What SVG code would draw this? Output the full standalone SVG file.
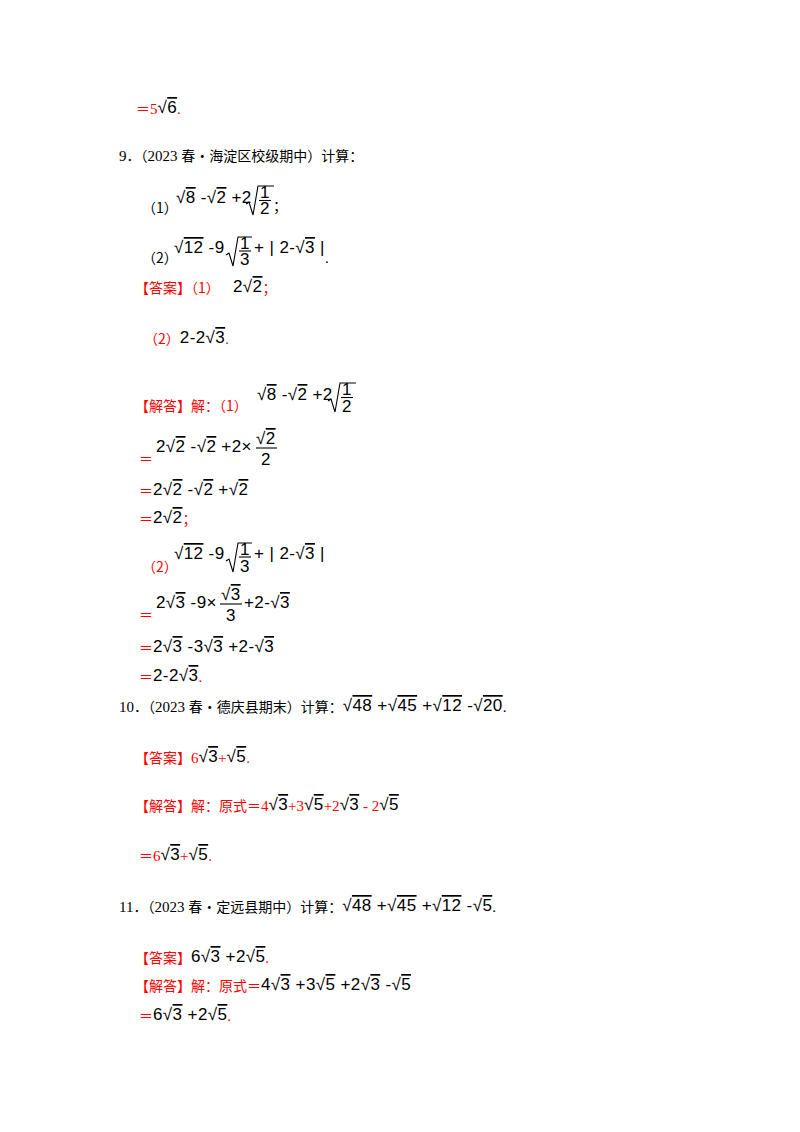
<svg xmlns="http://www.w3.org/2000/svg" width="800" height="1132" viewBox="0 0 800 1132">
<style>
text{font-family:"Noto Sans CJK SC",sans-serif;font-size:14px;fill:#000}
.n{font-family:"Liberation Serif",serif;font-size:15px}
.r{fill:#ff0000}
.k{fill:#000}
.m{font-family:"Liberation Sans","DejaVu Sans",sans-serif;font-size:17px;letter-spacing:0.4px;fill:#000}
.o{text-decoration:overline}
.rad{fill:none;stroke:#000;stroke-width:1.1}
.fl{stroke:#000;stroke-width:1.1}
</style>
<rect width="800" height="1132" fill="#fff"/>
<g id="l1"><text x="136" y="114"><tspan class="r">＝</tspan><tspan class="n r">5</tspan><tspan class="m" dy="-1">√<tspan class="o">6</tspan></tspan><tspan class="n r" dy="1">.</tspan></text></g>
<g id="q9"><text x="119" y="161"><tspan class="n">9</tspan>．（<tspan class="n">2023 </tspan>春•海淀区校级期中）计算：</text>
<text x="142" y="213">（1）</text>
<text class="m" x="176" y="203">√<tspan class="o">8</tspan> -√<tspan class="o">2</tspan> +2</text>
<path class="rad" d="M246,204 l3,-2 l4,13 l5,-29 h16"/><text class="m" x="260" y="198">1</text><line class="fl" x1="259" y1="200.5" x2="271" y2="200.5"/><text class="m" x="260" y="214">2</text><text x="273" y="211">；</text>
<text x="142" y="263">（2）</text>
<text class="m" x="174" y="253">√<tspan class="o">12</tspan> -9</text>
<path class="rad" d="M226,255 l3,-2 l4,13 l5,-29 h14"/><text class="m" x="240" y="249">1</text><line class="fl" x1="239" y1="251" x2="251" y2="251"/><text class="m" x="240" y="265">3</text>
<text class="m" x="254" y="253">+ | 2-√<tspan class="o">3</tspan> |</text><text class="n" x="325" y="263">.</text></g>
<g id="a9"><text class="r" x="135" y="293">【答案】（1）<tspan class="m k" x="233" dy="-1">2√<tspan class="o">2</tspan></tspan><tspan dy="1">；</tspan></text>
<text class="r" x="144" y="344">（2）<tspan class="m k" dy="-1">2-2√<tspan class="o">3</tspan></tspan><tspan class="n" dy="1">.</tspan></text></g>
<g id="s9"><text class="r" x="135" y="411">【解答】解：（1）</text>
<text class="m" x="257" y="400">√<tspan class="o">8</tspan> -√<tspan class="o">2</tspan> +2</text>
<path class="rad" d="M328,401 l3,-2 l4,13 l5,-29 h16"/><text class="m" x="342" y="395">1</text><line class="fl" x1="341" y1="397.5" x2="353" y2="397.5"/><text class="m" x="342" y="412">2</text>
<text class="r" x="139" y="464">＝</text><text class="m" x="156" y="452">2√<tspan class="o">2</tspan> -√<tspan class="o">2</tspan> +2×</text>
<text class="m" x="256" y="444">√<tspan class="o">2</tspan></text><line class="fl" x1="256" y1="448" x2="277" y2="448"/><text class="m" x="261" y="465">2</text>
<text class="r" x="139" y="496">＝<tspan class="m k" dy="-1">2√<tspan class="o">2</tspan> -√<tspan class="o">2</tspan> +√<tspan class="o">2</tspan></tspan></text>
<text class="r" x="139" y="524">＝<tspan class="m k" dy="-1">2√<tspan class="o">2</tspan></tspan><tspan dy="1">；</tspan></text>
<text class="r" x="142" y="572">（2）</text>
<text class="m" x="174" y="559">√<tspan class="o">12</tspan> -9</text>
<path class="rad" d="M226,561 l3,-2 l4,13 l5,-29 h14"/><text class="m" x="240" y="555">1</text><line class="fl" x1="239" y1="557" x2="251" y2="557"/><text class="m" x="240" y="572">3</text>
<text class="m" x="254" y="559">+ | 2-√<tspan class="o">3</tspan> |</text>
<text class="r" x="139" y="620">＝</text><text class="m" x="156" y="608">2√<tspan class="o">3</tspan> -9×</text>
<text class="m" x="221" y="600">√<tspan class="o">3</tspan></text><line class="fl" x1="220" y1="604" x2="242" y2="604"/><text class="m" x="226" y="621">3</text>
<text class="m" x="244" y="608">+2-√<tspan class="o">3</tspan></text>
<text class="r" x="139" y="653">＝<tspan class="m k" dy="-1">2√<tspan class="o">3</tspan> -3√<tspan class="o">3</tspan> +2-√<tspan class="o">3</tspan></tspan></text>
<text class="r" x="139" y="682">＝<tspan class="m k" dy="-1">2-2√<tspan class="o">3</tspan></tspan><tspan class="n" dy="1">.</tspan></text></g>
<g id="q10"><text x="119" y="712"><tspan class="n">10</tspan>．（<tspan class="n">2023 </tspan>春•德庆县期末）计算：<tspan class="m" dy="-1">√<tspan class="o">48</tspan> +√<tspan class="o">45</tspan> +√<tspan class="o">12</tspan> -√<tspan class="o">20</tspan></tspan><tspan class="n" dy="1">.</tspan></text>
<text class="r" x="135" y="763">【答案】<tspan class="n">6</tspan><tspan class="m k" dy="-1">√<tspan class="o">3</tspan></tspan><tspan class="n" dy="1">+</tspan><tspan class="m k" dy="-1">√<tspan class="o">5</tspan></tspan><tspan class="n" dy="1">.</tspan></text>
<text class="r" x="135" y="811">【解答】解：原式＝<tspan class="n">4</tspan><tspan class="m k" dy="-1">√<tspan class="o">3</tspan></tspan><tspan class="n" dy="1">+3</tspan><tspan class="m k" dy="-1">√<tspan class="o">5</tspan></tspan><tspan class="n" dy="1">+2</tspan><tspan class="m k" dy="-1">√<tspan class="o">3</tspan></tspan><tspan class="n" dy="1"> - 2</tspan><tspan class="m k" dy="-1">√<tspan class="o">5</tspan></tspan></text>
<text class="r" x="139" y="861">＝<tspan class="n">6</tspan><tspan class="m k" dy="-1">√<tspan class="o">3</tspan></tspan><tspan class="n" dy="1">+</tspan><tspan class="m k" dy="-1">√<tspan class="o">5</tspan></tspan><tspan class="n" dy="1">.</tspan></text></g>
<g id="q11"><text x="119" y="912"><tspan class="n">11</tspan>．（<tspan class="n">2023 </tspan>春•定远县期中）计算：<tspan class="m" dy="-1">√<tspan class="o">48</tspan> +√<tspan class="o">45</tspan> +√<tspan class="o">12</tspan> -√<tspan class="o">5</tspan></tspan><tspan class="n" dy="1">.</tspan></text>
<text class="r" x="135" y="963">【答案】<tspan class="m k" dy="-1">6√<tspan class="o">3</tspan> +2√<tspan class="o">5</tspan></tspan><tspan class="n" dy="1">.</tspan></text>
<text class="r" x="135" y="991">【解答】解：原式＝<tspan class="m k" dy="-1">4√<tspan class="o">3</tspan> +3√<tspan class="o">5</tspan> +2√<tspan class="o">3</tspan> -√<tspan class="o">5</tspan></tspan></text>
<text class="r" x="139" y="1021">＝<tspan class="m k" dy="-1">6√<tspan class="o">3</tspan> +2√<tspan class="o">5</tspan></tspan><tspan class="n" dy="1">.</tspan></text></g>
</svg>
